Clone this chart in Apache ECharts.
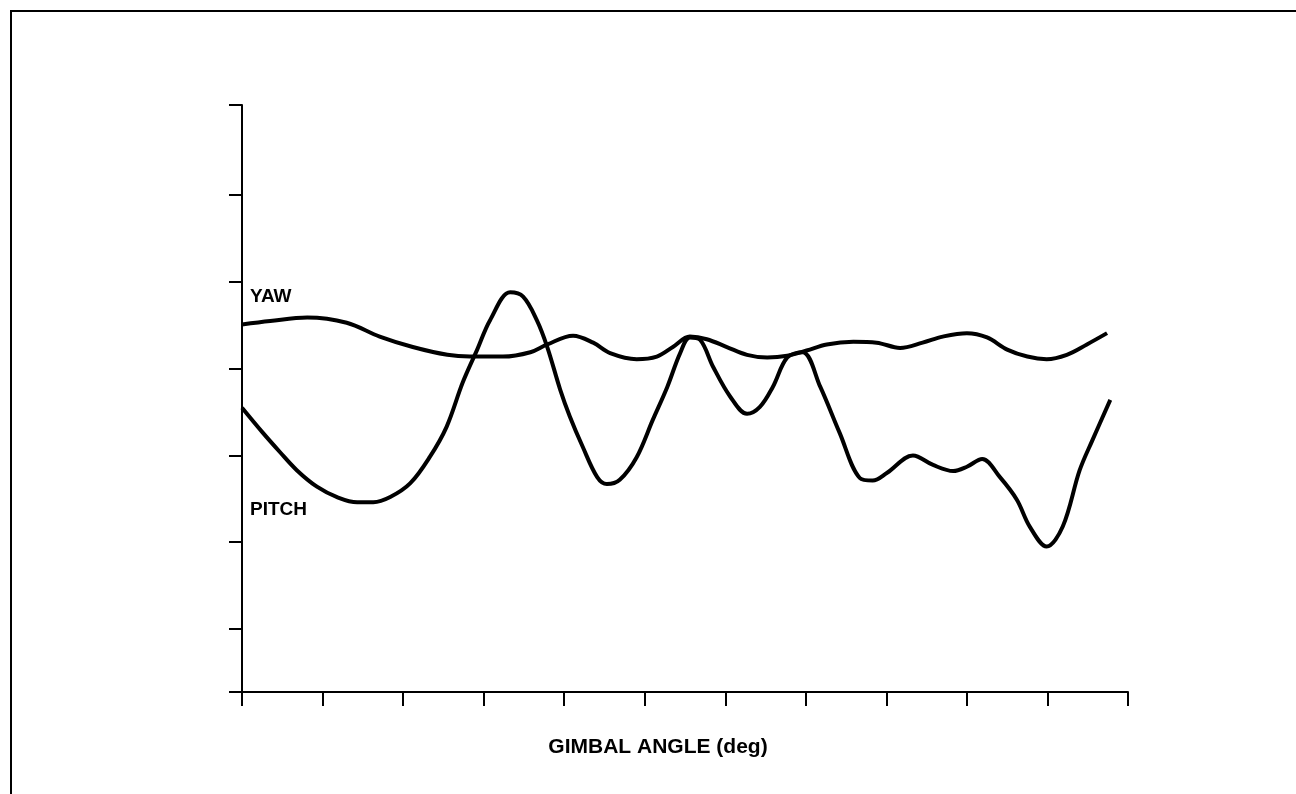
<!DOCTYPE html>
<html>
<head>
<meta charset="utf-8">
<script src="https://cdn.jsdelivr.net/npm/echarts@6/dist/echarts.min.js"></script>
<style>
html,body{margin:0;padding:0;background:#fff;}
#chart{width:1296px;height:794px;}
</style>
</head>
<body>
<div id="chart"></div>
<script>
// Gimbal angle in tick units (0..11), response in tick units
const yawData = [[0,3.51],[0.35,3.55],[0.81,3.59],[1.30,3.53],[1.71,3.37],[2.12,3.25],[2.55,3.16],[2.83,3.14],[3.24,3.14],[3.58,3.19],[3.79,3.28],[4.11,3.38],[4.36,3.30],[4.57,3.18],[4.90,3.11],[5.15,3.14],[5.35,3.25],[5.56,3.37],[5.77,3.34],[6.02,3.25],[6.27,3.16],[6.52,3.13],[6.77,3.15],[7.01,3.21],[7.26,3.28],[7.59,3.31],[7.88,3.30],[8.17,3.24],[8.45,3.30],[8.70,3.37],[9.00,3.41],[9.25,3.36],[9.50,3.22],[9.75,3.14],[9.99,3.11],[10.24,3.16],[10.49,3.28],[10.74,3.41]];
const pitchData = [[0,2.55],[0.26,2.26],[0.47,2.04],[0.68,1.83],[0.93,1.64],[1.18,1.52],[1.43,1.46],[1.63,1.46],[1.84,1.52],[2.09,1.68],[2.33,1.98],[2.54,2.33],[2.74,2.84],[2.92,3.22],[3.08,3.56],[3.33,3.88],[3.49,3.83],[3.66,3.56],[3.79,3.25],[3.95,2.76],[4.07,2.45],[4.23,2.10],[4.41,1.75],[4.53,1.67],[4.69,1.72],[4.90,1.98],[5.10,2.41],[5.28,2.79],[5.44,3.18],[5.56,3.36],[5.69,3.33],[5.85,3.02],[6.06,2.68],[6.27,2.48],[6.43,2.56],[6.59,2.79],[6.77,3.13],[6.96,3.19],[7.18,2.79],[7.42,2.26],[7.67,1.74],[7.83,1.71],[8.01,1.80],[8.33,2.00],[8.58,1.89],[8.83,1.82],[9.00,1.87],[9.19,1.96],[9.41,1.75],[9.62,1.49],[9.78,1.18],[9.99,0.95],[10.19,1.18],[10.40,1.83],[10.56,2.18],[10.78,2.64]];
const yTicks = [-0.727,0,1,2,3,4,5,6.04];
const xMin = 0, xMax = 11, xStep = 1;
const yMin = -0.727, yMax = 6.04;
const xTitle = 'GIMBAL ANGLE (deg)';
const yawLabel = 'YAW';
const pitchLabel = 'PITCH';

const chart = echarts.init(document.getElementById('chart'), null, {renderer:'canvas'});
const font = '"Liberation Sans", Arial, Helvetica, sans-serif';
const axisLine = {show:true, onZero:false, lineStyle:{color:'#000', width:2}};
chart.setOption({
  animation:false,
  backgroundColor:'#fff',
  grid:{left:242, right:168, top:105, bottom:102, containLabel:false},
  xAxis:{
    type:'value', min:xMin, max:xMax, interval:xStep,
    axisLine:axisLine,
    axisTick:{show:true, inside:false, length:14, lineStyle:{color:'#000', width:2}},
    axisLabel:{show:false},
    splitLine:{show:false}
  },
  yAxis:{
    type:'value', min:yMin, max:yMax,
    axisLine:axisLine,
    axisTick:{show:true, inside:false, length:13, customValues:yTicks, lineStyle:{color:'#000', width:2}},
    axisLabel:{show:false},
    splitLine:{show:false}
  },
  series:[
    {type:'line', name:yawLabel, data:yawData, smooth:0.35, showSymbol:false, lineStyle:{color:'#000', width:4}},
    {type:'line', name:pitchLabel, data:pitchData, smooth:0.35, showSymbol:false, lineStyle:{color:'#000', width:4}}
  ],
  graphic:[
    {type:'line', shape:{x1:10, y1:11, x2:1296, y2:11}, style:{stroke:'#000', lineWidth:2}},
    {type:'line', shape:{x1:11, y1:10, x2:11, y2:794}, style:{stroke:'#000', lineWidth:2}},
    {type:'text', left:250, top:287, style:{text:yawLabel, font:'bold 19px ' + font, fill:'#000'}},
    {type:'text', left:250, top:500, style:{text:pitchLabel, font:'bold 19px ' + font, fill:'#000'}},
    {type:'text', x:658, y:747, style:{text:xTitle, font:'bold 21px ' + font, fill:'#000', align:'center', verticalAlign:'middle'}}
  ]
});
</script>
</body>
</html>
